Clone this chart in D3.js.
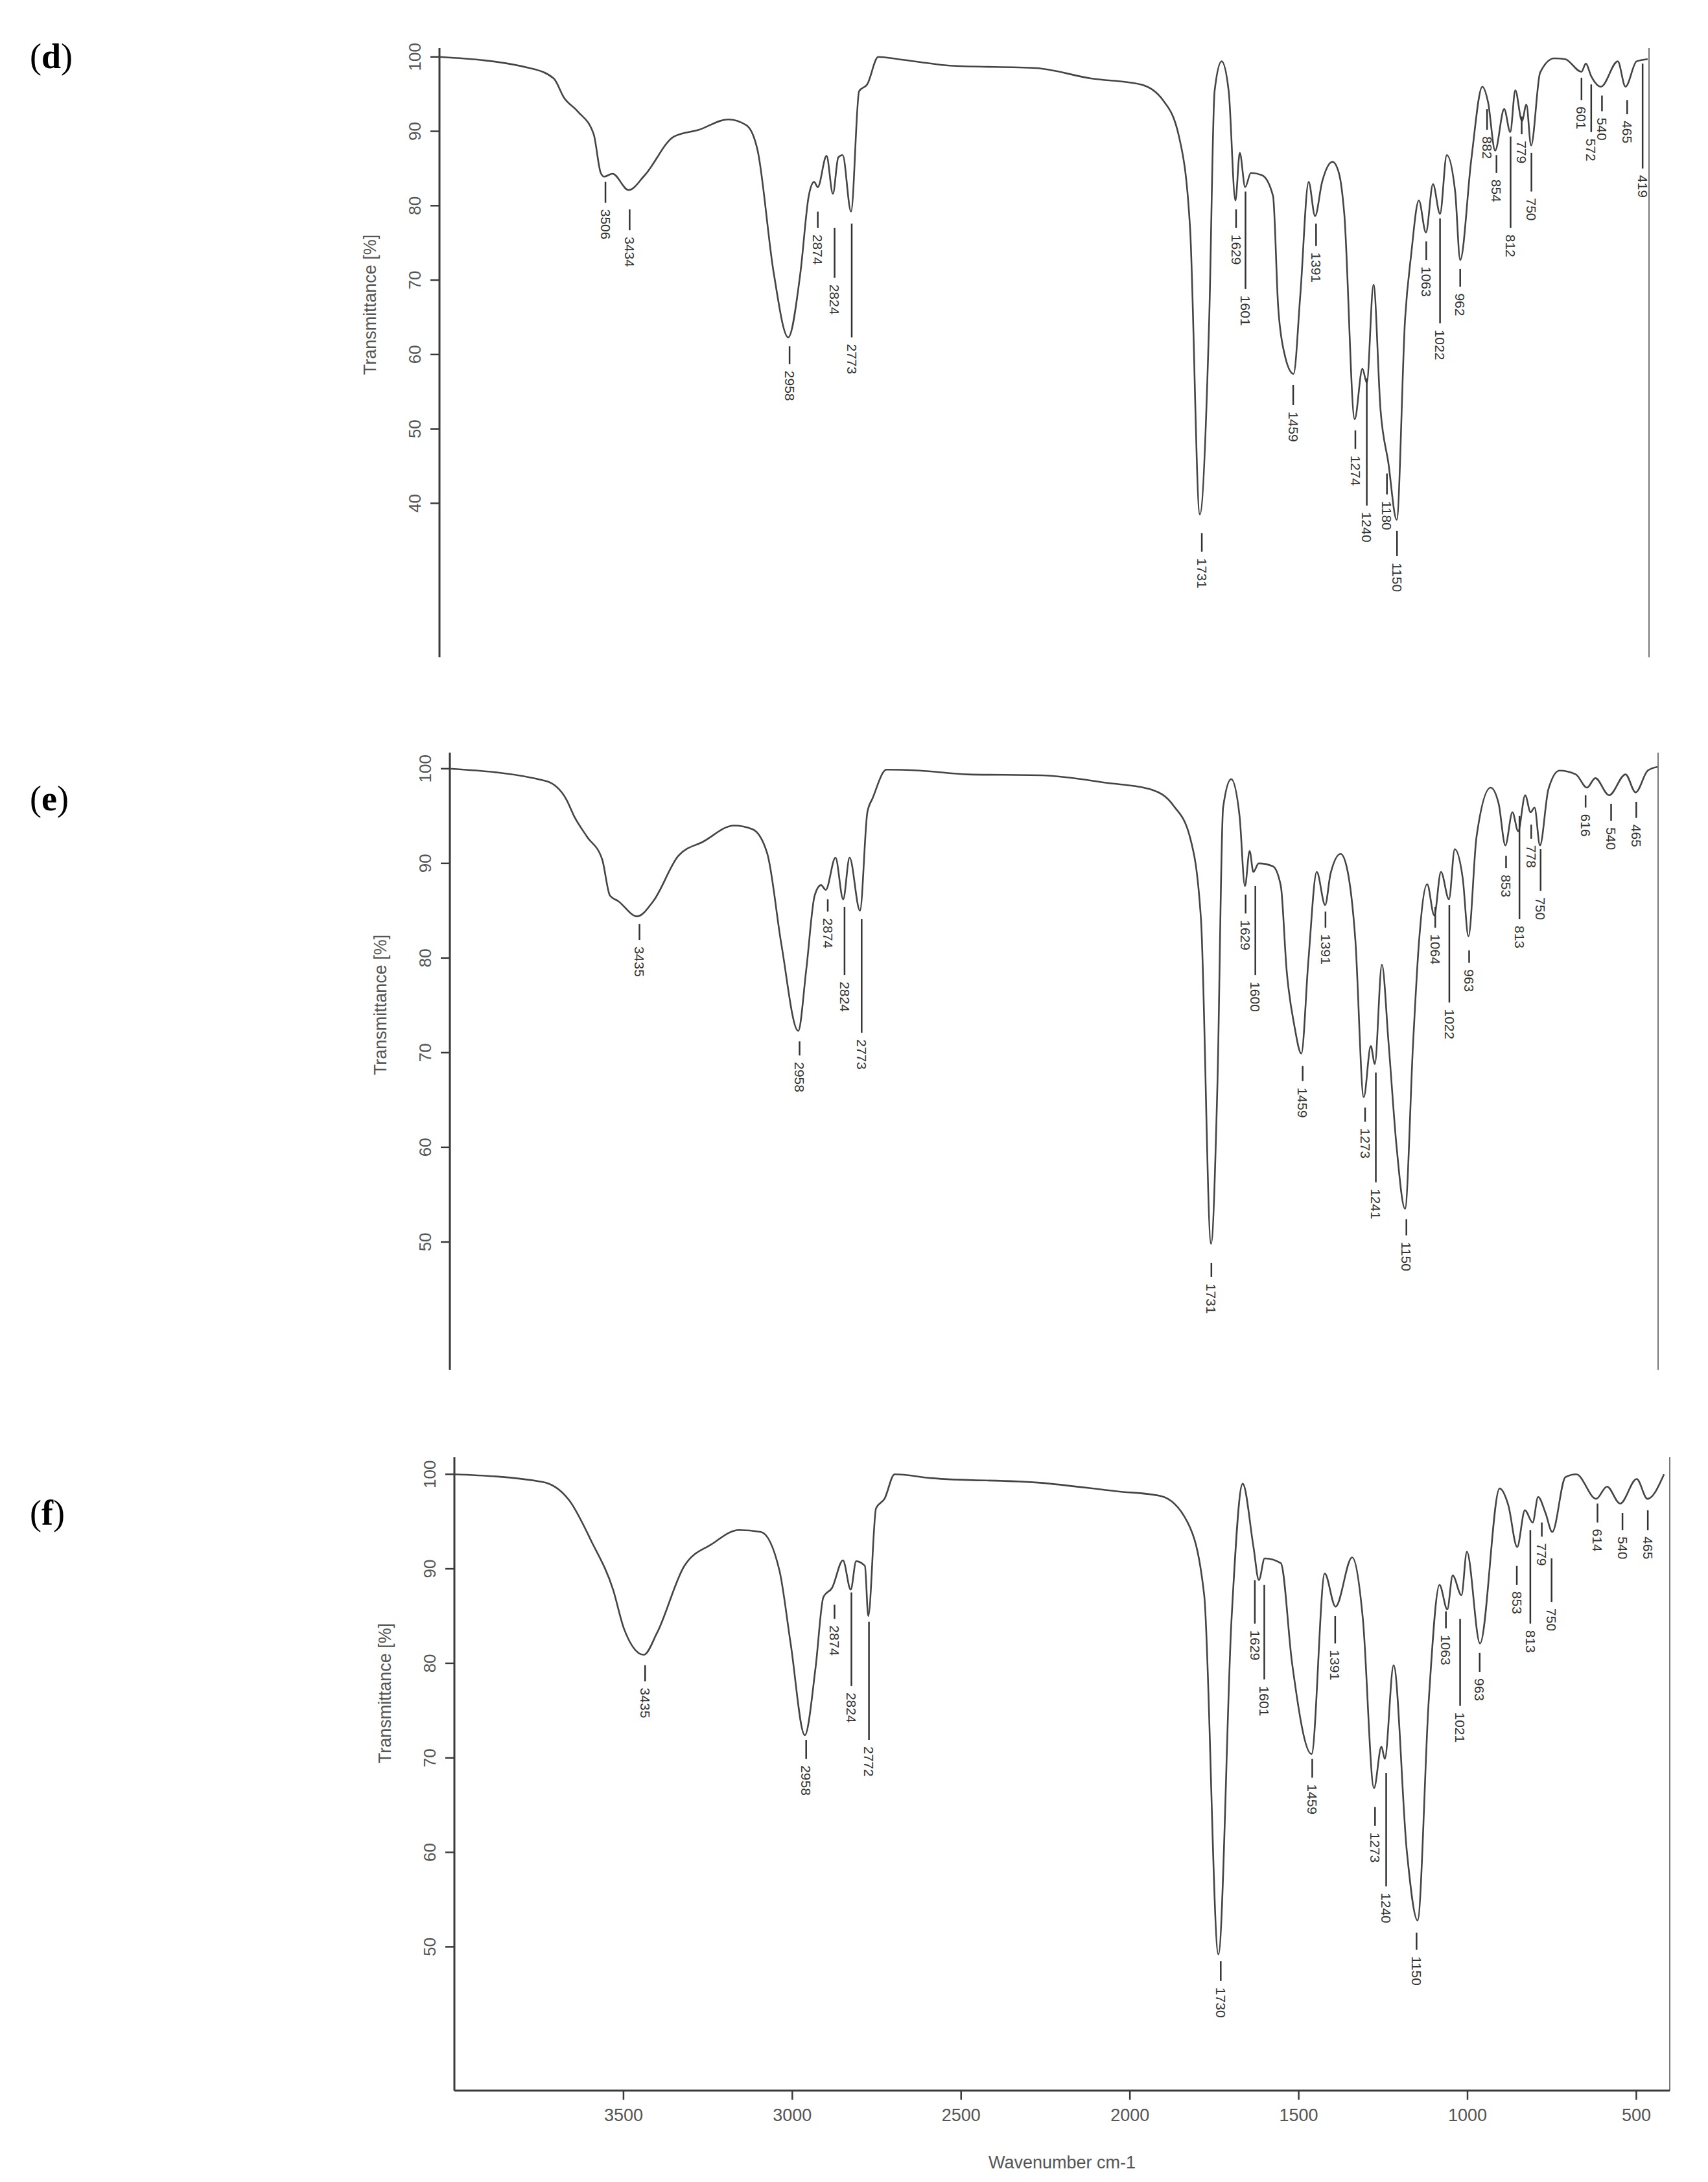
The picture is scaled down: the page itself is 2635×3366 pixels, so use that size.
<!DOCTYPE html>
<html>
<head>
<meta charset="utf-8">
<script src="https://cdn.jsdelivr.net/npm/d3@7"></script>
<style>
  body { margin: 0; background: #fff; }
  text { font-family: Arial, "Liberation Sans", sans-serif; }
</style>
</head>
<body>
<svg id="chart" width="2635" height="3366"></svg>
<script>
// ---- spectrum (d)
var dWave  = [4000,3732,3660,3629,3589,3541,3520,3510,3485,3437,3389,3302,3228,3141,3086,3053,3005,2962,2926,2901,2885,2874,2848,2829,2813,2800,2775,2751,2727,2694,2636,2472,2225,2061,1913,1847,1799,1766,1737,1709,1693,1672,1651,1631,1618,1602,1585,1552,1519,1504,1487,1458,1438,1413,1394,1373,1342,1323,1307,1276,1253,1240,1220,1199,1176,1151,1126,1108,1085,1064,1043,1022,1002,977,962,929,896,879,858,831,813,798,778,765,751,724,682,650,601,588,572,543,493,470,437,404];
var dTrans = [100,98.5,97.1,94.5,92.7,89.6,84.4,83.9,84.3,82.1,84.1,89.3,90.2,91.6,90.8,87.4,70.9,62.3,70.9,81.3,83.2,82.5,86.7,81.6,86.5,86.8,79.2,95.4,96.3,100,99.7,98.8,98.5,97.1,96.3,94.2,89.3,77,38.5,64.8,95.4,99.4,95.4,80.7,87.1,82.5,84.4,84.1,81.3,66.6,60.5,57.4,67.9,83.2,78.6,83.2,85.9,84.4,78.9,51.3,58.1,56.2,69.4,52.5,45.5,37.8,64.8,73.4,80.7,76.4,82.9,78.9,86.8,81.9,72.7,86.2,96,93.9,87.4,93,89.9,95.5,91.4,93.6,88.1,97.9,99.8,99.7,98,99.1,97.4,96,99.4,96,99.4,99.7];
var dPeaks = [3506,3434,2958,2874,2824,2773,1731,1629,1601,1459,1391,1274,1240,1180,1150,1063,1022,962,882,854,812,779,750,601,572,540,465,419];
var dLineTop = [83.2,79.5,61.1,79.2,77,77.6,36,79.5,81.9,55.9,77.6,49.8,56.8,44,36.3,75.2,78.3,71.5,93,86.8,89.3,92,87.1,97.2,96.3,94.8,94.2,99.1];
var dLineEnd = [80.4,76.7,58.7,77,70.3,62.3,33.5,77,68.8,53.2,74.6,47.3,39.7,41.2,32.9,72.7,64.2,69.1,90.2,84.4,77,89.6,81.9,94.2,89.9,92.7,92.3,85];

// ---- spectrum (e)
var eWave  = [4000,3714,3652,3630,3591,3546,3523,3498,3442,3394,3319,3245,3153,3098,3054,3012,2962,2938,2913,2894,2880,2851,2828,2809,2778,2756,2740,2699,2600,2457,2239,2041,1910,1844,1795,1762,1732,1713,1696,1672,1647,1631,1617,1606,1590,1548,1524,1507,1483,1463,1442,1417,1392,1376,1346,1327,1302,1277,1256,1244,1223,1203,1179,1154,1130,1113,1088,1067,1047,1023,1006,982,965,941,899,875,855,834,817,796,780,768,752,727,694,645,612,587,546,497,467,431,402];
var eTrans = [100,98.7,96.7,95,92.8,90.4,86.6,86,84.4,86,90.8,92.3,94,93.6,91,81.4,72.3,78.8,86.6,87.7,87.2,90.6,86.2,90.6,85,95.4,96.9,99.9,99.8,99.4,99.3,98.5,97.8,96.1,92.8,84.1,49.8,66.6,95.9,98.9,95,87.6,91.3,89.1,90,89.7,87.6,78.8,72.7,69.9,79.7,89.1,85.6,88.9,91,89.5,81.9,65.3,70.7,68.8,79.3,71,60,53.5,71,81.4,87.8,84.5,89.1,86.2,91.5,88.4,82.3,92.8,98,96.3,91.9,95.4,93.4,97.2,95.4,95.9,91.9,97.8,99.8,99.4,98,99,97.2,99.4,97.5,99.8,100.2];
var ePeaks = [3435,2958,2874,2824,2773,1731,1629,1600,1459,1391,1273,1241,1150,1064,1022,963,853,813,778,750,616,540,465];
var eLineTop = [83.6,71.2,86.2,85.4,84.1,47.8,86.7,87.6,68.6,84.9,64.2,67.9,52.4,85.4,85.6,80.8,90.8,95,94.1,91.5,97.2,96.3,96.5];
var eLineEnd = [81.9,69.7,84.9,78.2,72.1,46.3,84.7,78.2,67,83.2,62.7,56.3,50.7,83.2,75.3,79.5,89.5,84.1,92.6,87.1,95.9,94.5,94.8];

// ---- spectrum (f)
var fWave  = [4000,3740,3659,3594,3530,3497,3439,3400,3319,3238,3157,3092,3037,3004,2962,2930,2907,2881,2849,2826,2810,2784,2774,2751,2726,2696,2589,2265,2038,1908,1828,1779,1737,1698,1665,1633,1617,1600,1552,1519,1461,1422,1390,1341,1309,1276,1254,1244,1218,1179,1147,1114,1082,1059,1043,1017,1001,962,904,878,852,829,806,790,768,748,709,677,618,586,547,498,466,417];
var fTrans = [100,99.2,97.2,92.9,87.8,83.6,80.9,83.2,90.3,92.6,94.1,93.9,89.8,82.1,72.4,79.6,87,88,90.9,87.8,90.8,90.3,85,96.4,97.4,100,99.6,99.1,98.2,97.7,94.9,87.2,49.2,84.7,99,92.3,88.8,91.1,90.6,80.1,70.4,89.5,86,91.2,84.7,66.8,71.2,69.9,79.8,60.2,52.8,76,88.3,85.7,89.3,87.2,91.8,82.1,98.5,96.7,92.3,96.2,94.9,97.6,95.9,93.9,99.7,100,97.4,98.7,96.9,99.5,97.4,100];
var fPeaks = [3435,2958,2874,2824,2772,1730,1629,1601,1459,1391,1273,1240,1150,1063,1021,963,853,813,779,750,614,540,465];
var fLineTop = [79.8,71.9,86.2,87.5,84.4,48.5,88.8,88.3,69.9,85,64.8,68.4,51.5,85.5,84.7,81.1,90.3,94.1,94.9,91.1,96.9,95.9,96.2];
var fLineEnd = [78.1,69.9,84.7,77.6,71.9,46.4,84.2,78.3,67.9,82.1,62.8,56.4,49.7,83.7,75.5,79.1,88.3,84.2,93.4,86.5,94.9,94.1,94.1];

var xTicks = [3500, 3000, 2500, 2000, 1500, 1000, 500];

var panels = [
  { tag: "d", wave: dWave, trans: dTrans, peaks: dPeaks, lineTop: dLineTop, lineEnd: dLineEnd,
    x0: 678, x1: 2544, yTop: 74, yBot: 1014, vTop: 101.2, vBot: 19.3, yTicks: [40,50,60,70,80,90,100],
    labelY: 105, xAxis: false, titleY: 470 },
  { tag: "e", wave: eWave, trans: eTrans, peaks: ePeaks, lineTop: eLineTop, lineEnd: eLineEnd,
    x0: 694, x1: 2558, yTop: 1161, yBot: 2113, vTop: 101.7, vBot: 36.5, yTicks: [50,60,70,80,90,100],
    labelY: 1250, xAxis: false, titleY: 1550 },
  { tag: "f", wave: fWave, trans: fTrans, peaks: fPeaks, lineTop: fLineTop, lineEnd: fLineEnd,
    x0: 701, x1: 2576, yTop: 2248, yBot: 3225, vTop: 101.8, vBot: 34.8, yTicks: [50,60,70,80,90,100],
    labelY: 2352, xAxis: true, titleY: 2612 }
];

var svg = d3.select("#chart");
var ink = "#3a3a3a";

panels.forEach(function(p) {
  var x = d3.scaleLinear().domain([4000, 400]).range([p.x0, p.x1]);
  var y = d3.scaleLinear().domain([p.vBot, p.vTop]).range([p.yBot, p.yTop]);
  var g = svg.append("g");

  // panel letter
  var lt = g.append("text").attr("x", 46).attr("y", p.labelY)
    .style("font-family", "'Liberation Serif', 'DejaVu Serif', serif")
    .style("font-size", "54px").attr("fill", "#000");
  lt.append("tspan").text("(");
  lt.append("tspan").style("font-weight", "bold").text(p.tag);
  lt.append("tspan").text(")");

  // y axis
  var yAxis = d3.axisLeft(y).tickValues(p.yTicks).tickSize(14).tickPadding(10);
  var ya = g.append("g").attr("transform", "translate(" + p.x0 + ",0)").call(yAxis);
  ya.select(".domain").attr("d", "M0," + p.yTop + "V" + p.yBot).attr("stroke", ink).attr("stroke-width", 3);
  ya.selectAll(".tick line").attr("stroke", ink).attr("stroke-width", 2.5);
  ya.selectAll(".tick text")
    .attr("fill", "#555").style("font-size", "26px")
    .attr("text-anchor", "middle")
    .attr("transform", function(d) { return "translate(-38," + y(d) + ") rotate(-90)"; })
    .attr("x", 0).attr("dy", "0.35em").attr("y", 0);
  ya.selectAll(".tick").attr("transform", null);
  ya.selectAll(".tick line").attr("transform", function(d) { return "translate(0," + y(d) + ")"; });

  g.append("text")
    .attr("transform", "translate(" + (p.x0 - 98) + "," + p.titleY + ") rotate(-90)")
    .attr("text-anchor", "middle").attr("fill", "#555").style("font-size", "27px")
    .text("Transmittance [%]");

  // right frame line
  g.append("line").attr("x1", p.x1).attr("x2", p.x1).attr("y1", p.yTop).attr("y2", p.yBot)
    .attr("stroke", "#777").attr("stroke-width", 2);

  if (p.xAxis) {
    var xAxis = d3.axisBottom(x).tickValues(xTicks).tickFormat(d3.format("d"))
      .tickSize(14).tickPadding(14).tickSizeOuter(0);
    var xa = g.append("g").attr("transform", "translate(0," + p.yBot + ")").call(xAxis);
    xa.select(".domain").attr("d", "M" + p.x0 + ",0H" + p.x1).attr("stroke", ink).attr("stroke-width", 3);
    xa.selectAll(".tick line").attr("stroke", ink).attr("stroke-width", 2.5);
    xa.selectAll(".tick text").attr("fill", "#555").style("font-size", "27px");
    g.append("text").attr("x", (p.x0 + p.x1) / 2).attr("y", p.yBot + 120)
      .attr("text-anchor", "middle").attr("fill", "#555").style("font-size", "27px")
      .text("Wavenumber cm-1");
  }

  // spectrum
  var pts = p.wave.map(function(w, i) { return [w, p.trans[i]]; });
  var line = d3.line().x(function(d) { return x(d[0]); }).y(function(d) { return y(d[1]); })
    .curve(d3.curveMonotoneX);
  g.append("path").datum(pts).attr("d", line)
    .attr("fill", "none").attr("stroke", "#444").attr("stroke-width", 2.6);

  // peak markers
  p.peaks.forEach(function(w, i) {
    var px = x(w);
    g.append("line").attr("x1", px).attr("x2", px)
      .attr("y1", y(p.lineTop[i])).attr("y2", y(p.lineEnd[i]))
      .attr("stroke", "#333").attr("stroke-width", 2.5);
    g.append("text")
      .attr("transform", "translate(" + px + "," + (y(p.lineEnd[i]) + 10) + ") rotate(90)")
      .attr("dy", "0.35em").attr("fill", "#333").style("font-size", "21px")
      .text(w);
  });
});
</script>
</body>
</html>
